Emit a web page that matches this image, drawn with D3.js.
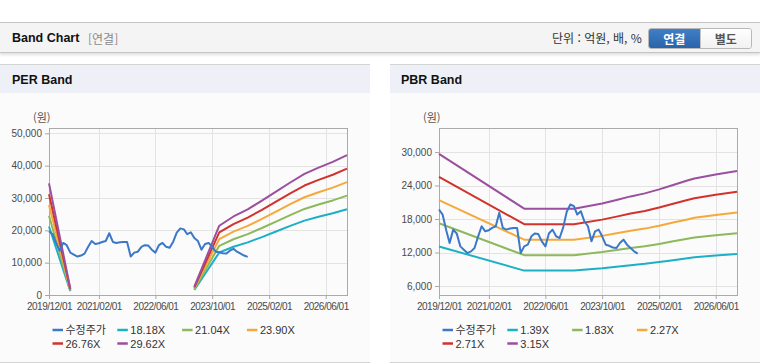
<!DOCTYPE html>
<html lang="ko">
<head>
<meta charset="UTF-8">
<title>Band Chart</title>
<script src="https://d3js.org/d3.v7.min.js"></script>
<style>
  body { margin: 0; width: 760px; height: 364px; overflow: hidden; background: #fff; position: relative;
         font-family: "Liberation Sans", Arial, "Noto Sans CJK KR", sans-serif; }
  .topbar { position: absolute; left: 0; top: 22px; width: 760px; height: 29px; background: #f4f4f4;
            border-top: 1px solid #c4c4c4; border-bottom: 1px solid #c4c4c4; box-shadow: 0 2px 3px rgba(0,0,0,0.13); }
  .topbar .title { position: absolute; left: 12px; top: 8px; font-size: 12.5px; font-weight: bold; color: #111; }
  .topbar .sub { position: absolute; left: 88px; top: 7px; font-size: 12px; color: #8a8a8a; font-family: "Noto Sans CJK KR", sans-serif; }
  .topbar .unit { position: absolute; left: 552px; top: 6px; font-size: 12px; color: #333; font-family: "Noto Sans CJK KR", sans-serif; }
  .btns { position: absolute; left: 648px; top: 5px; width: 102px; height: 19px; border: 1px solid #b8b8b8; border-radius: 3px;
          overflow: hidden; display: flex; font-family: "Noto Sans CJK KR", sans-serif; font-size: 12px; font-weight: bold; }
  .btns div { flex: 1; text-align: center; line-height: 19px; }
  .btns .on { background: linear-gradient(#3f80c6, #2a63aa); color: #fff; }
  .btns .off { background: linear-gradient(#ffffff, #f1f1f1); color: #555; border-left: 1px solid #c4c4c4; }
  .panel { position: absolute; top: 64px; width: 370px; height: 297px; background: #fbfbfb;
           border-top: 1px solid #d4d4d4; border-bottom: 1px solid #d4d4d4; }
  .panel .head { height: 28px; background: #edf1f7; font-weight: bold; font-size: 12.5px; color: #111;
                 padding-left: 12px; line-height: 31px; }
  svg { position: absolute; left: 0; top: 0; }
</style>
</head>
<body>
<div class="topbar">
  <div class="title">Band Chart</div>
  <div class="sub">[연결]</div>
  <div class="unit">단위 : 억원, 배, %</div>
  <div class="btns"><div class="on">연결</div><div class="off">별도</div></div>
</div>
<div class="panel" style="left:0"><div class="head">PER Band</div></div>
<div class="panel" style="left:390px"><div class="head" style="padding-left:11px">PBR Band</div></div>
<script>
// tick labels shared by both charts
const xTickLabels = ["2019/12/01", "2021/02/01", "2022/06/01", "2023/10/01", "2025/02/01", "2026/06/01"];
const xStart = "2019/12/01", xEnd = "2026/12/01";

// adjusted price (수정주가), monthly
const priceDates = ["2019/12","2020/01","2020/02","2020/03","2020/04","2020/05","2020/06","2020/07","2020/08","2020/09","2020/10","2020/11",
  "2020/12","2021/01","2021/02","2021/03","2021/04","2021/05","2021/06","2021/07","2021/08","2021/09","2021/10","2021/11",
  "2021/12","2022/01","2022/02","2022/03","2022/04","2022/05","2022/06","2022/07","2022/08","2022/09","2022/10","2022/11",
  "2022/12","2023/01","2023/02","2023/03","2023/04","2023/05","2023/06","2023/07","2023/08","2023/09","2023/10","2023/11",
  "2023/12","2024/01","2024/02","2024/03","2024/04","2024/05","2024/06","2024/07","2024/08"];
const price = [19700, 18800, 16000, 13700, 16100, 15400, 13100, 12500, 11900, 12200, 12800, 14900,
  16700, 15800, 16000, 16400, 16700, 19100, 16400, 16100, 16300, 16400, 16400, 11900,
  13100, 13400, 14900, 15400, 15300, 14000, 13100, 15400, 16100, 14900, 14600, 16500,
  19300, 20600, 20300, 18800, 19400, 17600, 16700, 14000, 15800, 16100, 14900, 13400,
  13200, 12900, 12800, 13700, 14300, 13400, 12800, 12200, 11800];

// PER band
const perNames = ["18.18X", "21.04X", "23.90X", "26.76X", "29.62X"];
const perDates = ["2019/12","2020/06","2020/07","2023/05","2023/12","2024/04","2024/08","2024/12","2025/04","2025/08","2025/12","2026/04","2026/08","2026/12"];
const per1818 = [21180, 1180, null, 1600, 13140, 14910, 16270, 17910, 19630, 21360, 23000, 24180, 25270, 26540];
const per2104 = [24510, 1370, null, 1850, 15210, 17250, 18830, 20720, 22720, 24720, 26620, 27980, 29250, 30720];
const per2390 = [27840, 1550, null, 2100, 17280, 19600, 21390, 23540, 25810, 28080, 30230, 31790, 33220, 34890];
const per2676 = [31180, 1740, null, 2350, 19350, 21940, 23950, 26360, 28900, 31440, 33850, 35590, 37200, 39070];
const per2962 = [34510, 1930, null, 2610, 21420, 24290, 26510, 29180, 31990, 34800, 37470, 39390, 41170, 43250];
const perYTicks = [0, 10000, 20000, 30000, 40000, 50000];

// PBR band
const pbrNames = ["1.39X", "1.83X", "2.27X", "2.71X", "3.15X"];
const pbrDates = ["2019/12","2021/12","2023/02","2023/10","2024/02","2024/06","2024/10","2025/02","2025/06","2025/10","2025/12","2026/06","2026/12"];
const pbr139 = [13090, 8760, 8760, 9170, 9450, 9730, 9970, 10290, 10630, 10980, 11150, 11470, 11730];
const pbr183 = [17240, 11530, 11530, 12080, 12440, 12810, 13120, 13540, 14000, 14460, 14680, 15100, 15450];
const pbr227 = [21380, 14300, 14300, 14980, 15440, 15890, 16280, 16800, 17370, 17930, 18210, 18730, 19160];
const pbr271 = [25530, 17070, 17070, 17890, 18430, 18970, 19430, 20050, 20730, 21410, 21730, 22360, 22870];
const pbr315 = [29670, 19850, 19850, 20790, 21420, 22050, 22590, 23310, 24100, 24890, 25260, 25990, 26590];
const pbrYTicks = [6000, 12000, 18000, 24000, 30000];

const colors = ["#3c78c8", "#1cb0c6", "#8db85b", "#f5a93b", "#d2322c", "#9b4f9e"];
const parseM = d3.timeParse("%Y/%m");
const parseD = d3.timeParse("%Y/%m/%d");

const svg = d3.select("body").append("svg").attr("width", 760).attr("height", 364);

function drawChart(opt) {
  const x = d3.scaleTime().domain([parseD(xStart), parseD(xEnd)]).range([opt.left, opt.right]);
  const y = d3.scaleLinear().domain(opt.yDomain).range([opt.bottom, opt.top]);
  const g = svg.append("g");

  // grid
  g.selectAll(".gy").data(opt.yTicks).join("line")
    .attr("x1", opt.left).attr("x2", opt.right)
    .attr("y1", d => Math.round(y(d)) + 0.5).attr("y2", d => Math.round(y(d)) + 0.5)
    .attr("stroke", "#e3e3e3");
  g.selectAll(".gx").data(xTickLabels).join("line")
    .attr("x1", d => Math.round(x(parseD(d))) + 0.5).attr("x2", d => Math.round(x(parseD(d))) + 0.5)
    .attr("y1", opt.top).attr("y2", opt.bottom)
    .attr("stroke", "#e3e3e3");

  // axes
  const xAxis = g.append("g").attr("transform", "translate(0," + opt.bottom + ")")
    .call(d3.axisBottom(x).tickValues(xTickLabels.map(parseD)).tickFormat(d3.timeFormat("%Y/%m/%d")).tickSize(4).tickPadding(4));
  const yAxis = g.append("g").attr("transform", "translate(" + opt.left + ",0)")
    .call(d3.axisLeft(y).tickValues(opt.yTicks).tickFormat(d3.format(",")).tickSize(4).tickPadding(3));
  [xAxis, yAxis].forEach(a => {
    a.select(".domain").remove();
    a.selectAll("line").attr("stroke", "#a8a8a8");
    a.selectAll("text").attr("fill", "#4a4a4a").style("font-size", "10px")
      .style("font-family", "'Liberation Sans', Arial, sans-serif");
  });
  xAxis.selectAll("text").style("letter-spacing", "-0.5px");

  g.append("rect").attr("x", opt.left + 0.5).attr("y", opt.top + 0.5)
    .attr("width", opt.right - opt.left).attr("height", opt.bottom - opt.top)
    .attr("fill", "none").attr("stroke", "#aaaaaa");

  g.append("text").attr("x", opt.left - 16).attr("y", opt.top - 6)
    .attr("fill", "#555").style("font-size", "11px")
    .style("font-family", "'Noto Sans CJK KR', sans-serif").text("(원)");

  const line = d3.line().defined(d => d.v != null).x(d => x(d.t)).y(d => y(d.v));

  opt.bands.forEach((vals, i) => {
    const pts = opt.bandDates.map((d, j) => ({ t: parseM(d), v: vals[j] }));
    g.append("path").datum(pts).attr("d", line)
      .attr("fill", "none").attr("stroke", colors[i + 1]).attr("stroke-width", 2)
      .attr("stroke-linejoin", "round");
  });
  const pp = priceDates.map((d, j) => ({ t: parseM(d), v: price[j] }));
  g.append("path").datum(pp).attr("d", line)
    .attr("fill", "none").attr("stroke", colors[0]).attr("stroke-width", 2)
    .attr("stroke-linejoin", "round");

  // legend
  const names = ["수정주가"].concat(opt.names);
  const lg = g.append("g");
  names.forEach((n, i) => {
    const lx = opt.left + 3.5 + (i % 4) * 64.8;
    const ly = i < 4 ? 330 : 343.5;
    lg.append("line").attr("x1", lx).attr("x2", lx + 10.5).attr("y1", ly).attr("y2", ly)
      .attr("stroke", colors[i]).attr("stroke-width", 2.5);
    lg.append("text").attr("x", lx + 13).attr("y", ly + 4).attr("fill", "#333")
      .style("font-size", "11px")
      .style("font-family", "'Liberation Sans', Arial, 'Noto Sans CJK KR', sans-serif").text(n);
  });
}

drawChart({
  left: 49, right: 347, top: 128, bottom: 295,
  yDomain: [0, 51650], yTicks: perYTicks,
  names: perNames, bandDates: perDates,
  bands: [per1818, per2104, per2390, per2676, per2962]
});
drawChart({
  left: 439, right: 737, top: 128, bottom: 295,
  yDomain: [4390, 34300], yTicks: pbrYTicks,
  names: pbrNames, bandDates: pbrDates,
  bands: [pbr139, pbr183, pbr227, pbr271, pbr315]
});
</script>
</body>
</html>
